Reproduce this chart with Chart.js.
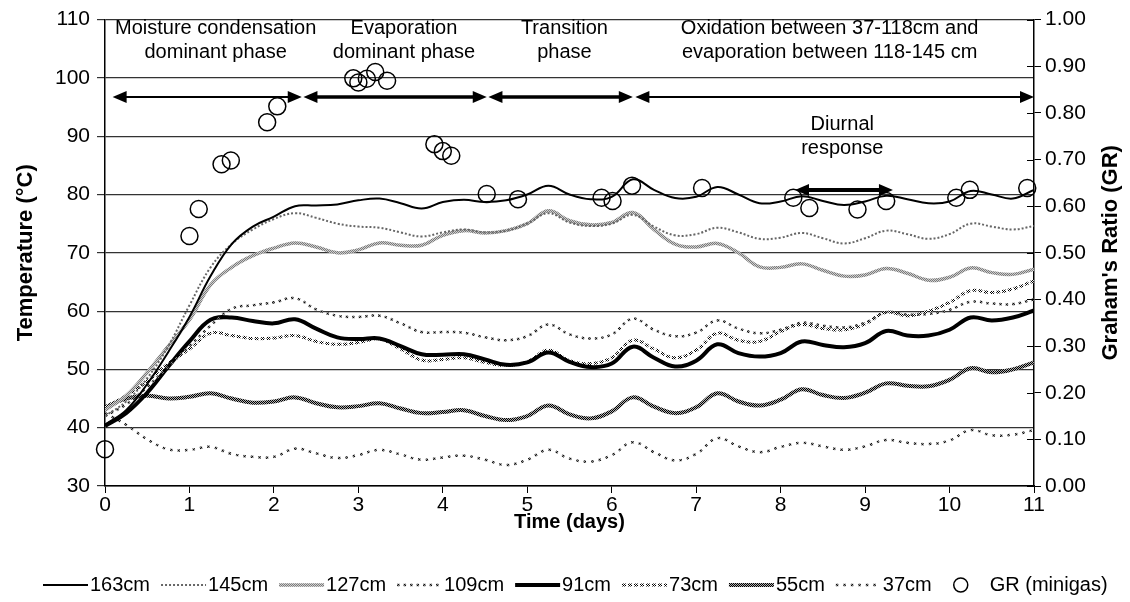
<!DOCTYPE html>
<html><head><meta charset="utf-8">
<script src="https://cdn.jsdelivr.net/npm/chart.js@4.4.0/dist/chart.umd.min.js"></script>
<style>html,body{margin:0;padding:0;background:#fff;}canvas{display:block;}</style>
</head><body>
<canvas id="c" width="1130" height="602"></canvas>
<script>
// ---- data ----
const days = [0,0.25,0.5,0.75,1,1.25,1.5,1.75,2,2.25,2.5,2.75,3,3.25,3.5,3.75,4,4.25,4.5,4.75,5,5.25,5.5,5.75,6,6.25,6.5,6.75,7,7.25,7.5,7.75,8,8.25,8.5,8.75,9,9.25,9.5,9.75,10,10.25,10.5,10.75,11];
const t163 = [40.5,43,47.5,53,59,66,71.5,74.5,76.2,78,78.1,78.3,79,79.3,78.5,77.6,78.7,79.1,78.7,79,80,81.5,80,79.2,79.6,82.6,80.8,79.4,79.6,81.3,80,78.5,78.8,79.7,78.9,78.2,78.8,79.8,79.2,78.5,78.8,80.6,80,79.3,80.8];
const t145 = [42,44.5,48.5,54,61,67.5,71.5,74,75.8,76.8,76,75,74.5,74.3,73.5,72.8,73.5,74,73.5,73.8,75,76.8,75.2,74.6,75,76.5,74.5,73,73.2,74.3,73.5,72.4,72.6,73.4,72.5,71.6,72.5,73.8,73.2,72.4,73.2,75,74.5,74,74.6];
const t127 = [43,45.5,49.5,54,58.5,64.5,67.5,69.5,70.8,71.7,71,70,70.5,71.7,71.3,71.3,73,73.8,73.4,73.8,75,77.2,75.5,74.8,75.2,76.9,74,71.5,71,71.6,70,67.6,67.5,68.1,67,66,66.2,67.3,66.5,65.3,65.8,67.4,66.6,66.3,67.2];
const t109 = [42,44,47,50.5,54,57.5,60.4,61,61.5,62.2,60.3,59.2,59,59.2,57.9,56.4,56.4,56.3,55.5,55,55.7,57.7,56,55.3,56,58.7,56.8,55.7,56.3,58.4,57,56.2,56.8,58,57.5,57.2,58,59.8,59.4,59.5,60.2,61.6,61.3,61.2,62];
const t91  = [40.3,42.5,46,50.5,54.8,58.5,58.9,58.3,57.9,58.6,57,55.5,55.2,55.3,54,52.6,52.5,52.6,51.7,50.8,51.2,52.9,51.3,50.4,51,53.9,52,50.5,51.5,54.3,52.8,52.2,52.8,54.8,54.2,53.8,54.5,56.6,55.8,55.8,56.8,58.9,58.4,58.9,60.1];
const t73  = [43.5,45.5,48,51,53.5,56.2,55.8,55.3,55.4,55.8,54.8,54.3,54.6,55.2,53.5,51.6,51.7,52,51.2,50.7,51.3,53.3,51.5,51,52,55,53.5,52,53.3,56.2,55,54.8,56.5,57.7,57,56.8,57.8,59.8,59.2,60,61.5,63.5,63.2,63.8,65.2];
const t55  = [43.5,45,45.5,45,45.3,45.9,45,44.3,44.5,45.2,44.2,43.5,43.7,44.2,43.3,42.5,42.7,43,42,41.3,42,43.8,42.3,41.6,42.8,45.2,43.6,42.5,43.5,45.9,44.5,43.8,44.8,46.6,45.6,45.1,46,47.6,47.2,47.1,48.2,50.2,49.5,50,51.2];
const t37  = [42.5,40.5,38,36.3,36.2,36.7,35.5,35,35,36.4,35.6,34.8,35.3,36.2,35.4,34.5,34.9,35.2,34.5,33.6,34.5,36.2,34.7,34.2,35.3,37.5,35.8,34.4,35.5,38.2,36.8,35.8,36.7,37.4,36.8,36.2,36.8,37.9,37.4,37.2,37.8,39.6,38.7,38.8,39.6];
const grDays   = [0,1.0,1.11,1.38,1.49,1.92,2.04,2.94,3.0,3.1,3.2,3.34,3.9,4.0,4.1,4.52,4.89,5.88,6.01,6.24,7.07,8.15,8.34,8.91,9.25,10.08,10.24,10.92];
const grValues = [0.079,0.536,0.594,0.69,0.698,0.78,0.814,0.874,0.865,0.873,0.8875,0.869,0.733,0.718,0.708,0.626,0.615,0.618,0.611,0.644,0.639,0.618,0.596,0.593,0.611,0.618,0.635,0.639];
const seriesNames = ['163cm','145cm','127cm','109cm','91cm','73cm','55cm','37cm'];
const seriesValues = [t163,t145,t127,t109,t91,t73,t55,t37];
const grName = 'GR (minigas)';
const phaseLabels = [['Moisture condensation','dominant phase'],['Evaporation','dominant phase'],['Transition','phase'],['Oxidation between 37-118cm and','evaporation between 118-145 cm']];
const diurnalLabel = ['Diurnal','response'];

// ---- styles ----
const FONT = "'Liberation Sans', Arial, sans-serif";
Chart.defaults.font.family = FONT;
Chart.defaults.color = '#000';

function pattern(cells, n) {
  const c = document.createElement('canvas'); c.width = n; c.height = n;
  const g = c.getContext('2d');
  for (let i = 0; i < n; i++) for (let j = 0; j < n; j++) {
    g.fillStyle = cells[(i + j) % cells.length]; g.fillRect(i, j, 1, 1);
  }
  return g.createPattern(c, 'repeat');
}
const ctx = document.getElementById('c').getContext('2d');
const checker = pattern(['#000', '#b0b0b0'], 2);
const beads = pattern(['#7a7a7a', '#cfcfcf'], 2);
const dense = pattern(['#000', '#ffffff'], 2);
const sparse = pattern(['#111', '#888'], 4);

const styles = [
  {borderColor: '#000', borderWidth: 2, borderDash: []},
  {borderColor: '#666', borderWidth: 2, borderDash: [2, 2]},
  {borderColor: beads, borderWidth: 3.5, borderDash: []},
  {borderColor: sparse, borderWidth: 2.5, borderDash: [2.5, 4]},
  {borderColor: '#000', borderWidth: 4, borderDash: []},
  {borderColor: dense, borderWidth: 3, borderDash: [4, 2]},
  {borderColor: checker, borderWidth: 4, borderDash: []},
  {borderColor: sparse, borderWidth: 2.5, borderDash: [2.5, 5]},
];

const datasets = seriesNames.map((name, i) => ({
  label: name,
  data: days.map((d, k) => ({x: d, y: seriesValues[i][k]})),
  yAxisID: 'y',
  pointRadius: 0,
  tension: 0.4,
  fill: false,
  ...styles[i]
}));
datasets.unshift({
  label: grName,
  data: grDays.map((d, k) => ({x: d, y: grValues[k]})),
  yAxisID: 'y2',
  showLine: false,
  pointStyle: 'circle',
  pointRadius: 8.5,
  pointBorderWidth: 1.5,
  pointBorderColor: '#000',
  pointBackgroundColor: 'rgba(0,0,0,0)',
  borderColor: '#000',
  clip: false
});

function arrowHead(g, x, y, dir, len, half) {
  g.beginPath(); g.moveTo(x, y); g.lineTo(x - dir * len, y - half); g.lineTo(x - dir * len, y + half); g.closePath(); g.fill();
}
function doubleArrow(g, x1, x2, y, lw) {
  g.save(); g.strokeStyle = '#000'; g.fillStyle = '#000'; g.lineWidth = lw;
  g.beginPath(); g.moveTo(x1 + 10, y); g.lineTo(x2 - 10, y); g.stroke();
  arrowHead(g, x1, y, -1, 14, 6); arrowHead(g, x2, y, 1, 14, 6);
  g.restore();
}

const annot = {
  id: 'annot',
  afterDraw(chart) {
    const g = chart.ctx, x = chart.scales.x, y = chart.scales.y, y2 = chart.scales.y2;
    // right axis inner tick halves
    g.save(); g.strokeStyle = '#000'; g.lineWidth = 1;
    for (let v = 0; v <= 10; v++) {
      const py = Math.round(y2.getPixelForValue(v / 10)) + 0.5;
      g.beginPath(); g.moveTo(x.right - 7, py); g.lineTo(x.right, py); g.stroke();
    }
    g.restore();
    // phase texts
    g.save(); g.fillStyle = '#000'; g.font = '20px ' + FONT; g.textAlign = 'center'; g.textBaseline = 'middle';
    const centers = [1.31, 3.54, 5.44, 8.58];
    phaseLabels.forEach((lines, i) => {
      g.fillText(lines[0], x.getPixelForValue(centers[i]), 28);
      g.fillText(lines[1], x.getPixelForValue(centers[i]), 52);
    });
    g.fillText(diurnalLabel[0], x.getPixelForValue(8.73), 124);
    g.fillText(diurnalLabel[1], x.getPixelForValue(8.73), 148);
    g.restore();
    // phase arrows
    const ay = Math.round(y.getPixelForValue(96.7));
    doubleArrow(g, x.getPixelForValue(0.09), x.getPixelForValue(2.33), ay, 2);
    doubleArrow(g, x.getPixelForValue(2.35), x.getPixelForValue(4.52), ay, 3.5);
    doubleArrow(g, x.getPixelForValue(4.54), x.getPixelForValue(6.25), ay, 3.5);
    doubleArrow(g, x.getPixelForValue(6.28), x.getPixelForValue(11), ay, 2);
    doubleArrow(g, x.getPixelForValue(8.17), x.getPixelForValue(9.33), Math.round(y.getPixelForValue(80.8)), 4);
    // right axis title (reads bottom to top)
    g.save(); g.fillStyle = '#000'; g.font = 'bold 22px ' + FONT; g.textAlign = 'center'; g.textBaseline = 'middle';
    g.translate(1111, (y.top + y.bottom) / 2); g.rotate(-Math.PI / 2);
    g.fillText("Graham's Ratio (GR)", 0, 0);
    g.restore();
    // legend
    g.save(); g.font = '20px ' + FONT; g.textBaseline = 'middle'; g.fillStyle = '#000';
    const ly = 585; let lx = 43;
    chart.data.datasets.slice(1).forEach(ds => {
      g.save(); g.strokeStyle = ds.borderColor; g.lineWidth = ds.borderWidth; g.setLineDash(ds.borderDash || []);
      g.beginPath(); g.moveTo(lx, ly); g.lineTo(lx + 45, ly); g.stroke(); g.restore();
      lx += 47;
      g.fillText(ds.label, lx, ly);
      lx += g.measureText(ds.label).width + 11;
    });
    lx += 11;
    g.lineWidth = 1.5; g.strokeStyle = '#000';
    g.beginPath(); g.arc(lx + 7, ly, 7, 0, Math.PI * 2); g.stroke();
    g.fillText(grName, lx + 36, ly);
    g.restore();
  }
};

new Chart(ctx, {
  type: 'line',
  data: {datasets},
  plugins: [annot],
  options: {
    responsive: false,
    animation: false,
    events: [],
    layout: {padding: {top: 18, bottom: 52, left: 0, right: 0}},
    plugins: {legend: {display: false}, tooltip: {enabled: false}},
    scales: {
      x: {
        type: 'linear', min: 0, max: 11,
        ticks: {stepSize: 1, font: {size: 21}, padding: 0, color: '#000'},
        grid: {drawOnChartArea: false, tickLength: 7, color: '#000'},
        border: {color: '#000', width: 1.5},
        title: {display: true, text: 'Time (days)', font: {size: 20, weight: 'bold'}, color: '#000', padding: {top: 0, bottom: 16}},
        afterFit: s => { s.height = 64; }
      },
      y: {
        position: 'left', min: 30, max: 110,
        ticks: {stepSize: 10, font: {size: 21}, padding: 7, color: '#000'},
        grid: {color: '#333', lineWidth: 1.2, tickLength: 8},
        border: {color: '#000', width: 1.5},
        title: {display: true, text: 'Temperature (°C)', font: {size: 22, weight: 'bold'}, color: '#000', padding: {top: 13, bottom: 0}},
        afterFit: s => { s.width = 105; }
      },
      y2: {
        position: 'right', min: 0, max: 1,
        ticks: {stepSize: 0.1, font: {size: 21}, padding: 4, color: '#000', callback: v => v.toFixed(2)},
        grid: {drawOnChartArea: false, tickLength: 7, color: '#000'},
        border: {color: '#000', width: 1.5},
        afterFit: s => { s.width = 96; }
      }
    }
  }
});
</script>
</body></html>
